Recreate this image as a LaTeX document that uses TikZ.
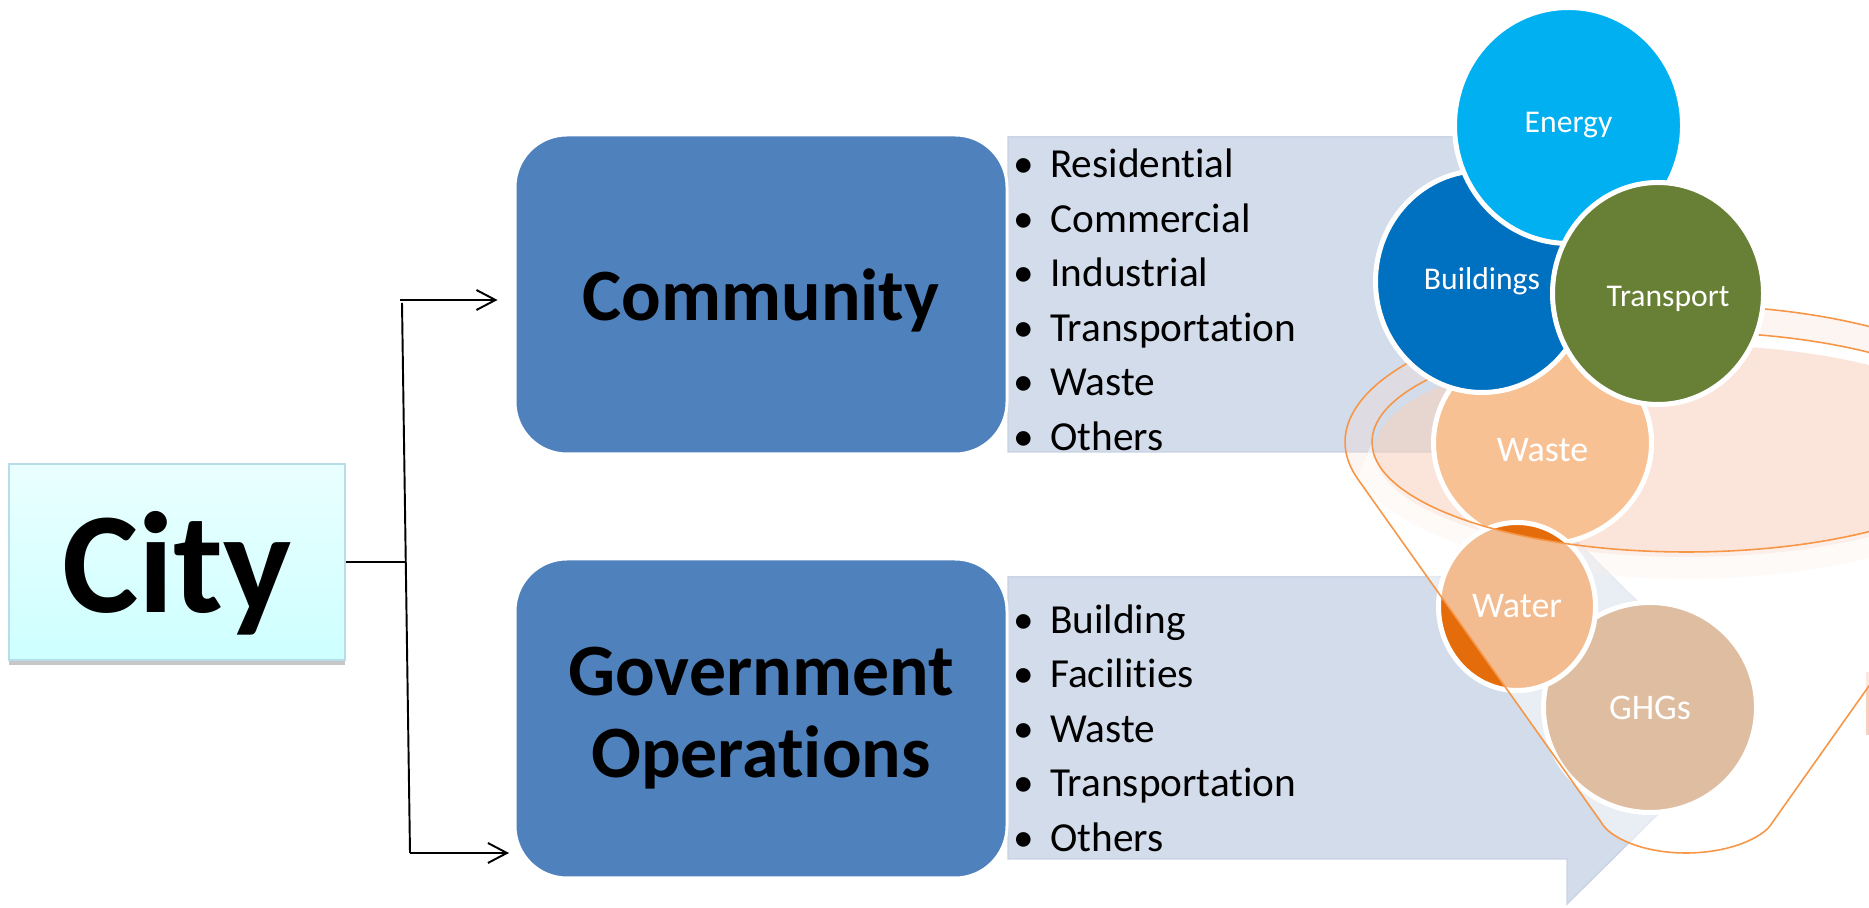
\documentclass[tikz,border=0pt]{standalone}
\usepackage{fontspec}
\setmainfont{Carlito}[Ligatures=NoCommon]
\usepackage{xcolor}
\usetikzlibrary{shadows}
\usepackage{tikz}
\usetikzlibrary{positioning, arrows.meta}
\usetikzlibrary{shapes,shapes.geometric}

\definecolor{cityfill}{RGB}{234,255,255}
\definecolor{cityfillb}{RGB}{206,255,255}
\definecolor{cityline}{RGB}{183,221,232}
\definecolor{sectorblue}{RGB}{79,129,189}
\definecolor{listblue}{RGB}{211,220,234}
\definecolor{listline}{RGB}{203,212,229}
\definecolor{energyblue}{RGB}{0,176,240}
\definecolor{buildblue}{RGB}{0,112,192}
\definecolor{transgreen}{RGB}{103,128,54}
\definecolor{wastepeach}{RGB}{248,193,148}
\definecolor{waterorange}{RGB}{228,108,10}
\definecolor{ghgtan}{RGB}{223,189,160}
\definecolor{funnelline}{RGB}{247,150,70}
\definecolor{rimfill}{RGB}{250,222,208}
\definecolor{mouthfill}{RGB}{248,208,188}

\newcommand{\conebody}{(1357.6,429.2) -- (1601,86) .. controls (1608,72) and (1640,55) .. (1686,55) .. controls (1732,55) and (1765,72) .. (1772,85) -- (2015.4,429.2) -- (2001,466) arc[start angle=0, end angle=-180, x radius=314.5, y radius=110] -- cycle}

\begin{document}
\begin{tikzpicture}[x=0.2mm, y=0.2mm,
  sector/.style={rounded corners=10.4mm, fill=sectorblue, draw=white, line width=0.6mm,
    minimum width=98.4mm, minimum height=63.8mm, align=center,
    font=\fontsize{42}{46.7}\selectfont\bfseries},
  bubble/.style={ellipse, inner sep=0pt, draw=white, line width=1mm, text=white,
    font=\fontsize{18}{22}\selectfont},
  lowbubble/.style={bubble, font=\fontsize{20.5}{24}\selectfont},
  bubtext/.style={text=white, font=\fontsize{20.5}{24}\selectfont},
  item/.style={anchor=base west, inner sep=0pt, font=\fontsize{23.5}{28}\selectfont},
  listarrow/.style={fill=listblue, draw=listline, line width=0.3mm},
  link/.style={line width=1.1pt},
  funnel/.style={draw=funnelline, line width=0.9pt}]

\useasboundingbox (0,0) rectangle (1869,908);
\clip (0,0) rectangle (1869,908);

% arrows behind the lists
\filldraw[listarrow] (1008,771) -- (1500,771) -- (1500,797) -- (1688,613.5) -- (1500,430) -- (1500,456) -- (1008,456) -- cycle;
\filldraw[listarrow] (1008,331) -- (1567,331) -- (1567,376) -- (1755,190) -- (1567,4) -- (1567,49) -- (1008,49) -- cycle;

% city and its two parts
\node[draw=cityline, line width=0.5mm, top color=cityfill, bottom color=cityfillb,
  minimum width=67.2mm, minimum height=39.2mm, text depth=0pt,
  drop shadow={shadow xshift=0mm, shadow yshift=-1.1mm, fill=black!22, opacity=1},
  font=\fontsize{82}{90}\selectfont\bfseries] (city) at (177,346) {City};
\node[sector, text depth=0pt] (comm) at (761,613.5) {Community};
\node[sector] (gov) at (761,189.5) {Government\\Operations};

\coordinate (jtop) at (402,605);
\coordinate (jbot) at (410,55);
\coordinate (jmid) at (405.8,346);
\coordinate (atop) at (400,608);
\draw[link] (city.east) -- (jmid);
\draw[link] (jtop) -- (jbot);
\draw[link, -{Straight Barb[length=3.8mm, width=4mm]}, shorten >=3.2mm] (atop) -- (atop -| comm.west);
\draw[link, -{Straight Barb[length=3.8mm, width=4mm]}, shorten >=0.9mm] (jbot) -- (jbot -| gov.west);

% lists
\foreach \t [count=\i] in {Residential,Commercial,Industrial,Transportation,Waste,Others}
  \node[item] (c\i) at (1013,{784.8-54.5*\i}) {\makebox[21pt][l]{\textbullet}\t};
\foreach \t [count=\i] in {Building,Facilities,Waste,Transportation,Others}
  \node[item] (g\i) at (1013,{329.2-54.5*\i}) {\makebox[21pt][l]{\textbullet}\t};

% funnel
\fill[rimfill, opacity=0.3, even odd rule] (1686.5,466) ellipse[x radius=341.5, y radius=136.7] (1686.5,466) ellipse[x radius=314.5, y radius=110];
\fill[mouthfill, opacity=0.55] (1686.5,457) ellipse[x radius=312, y radius=106];
\fill[mouthfill] (1866,173) rectangle (1869,236);

\node[lowbubble, fill=wastepeach, minimum width=43.6mm, minimum height=40.6mm,
  label={[bubtext, yshift=-1.4mm]center:Waste}] (waste) at (1542.5,465) {};
\fill[white, opacity=0.5] \conebody;
\node[lowbubble, fill=ghgtan, minimum width=42.6mm, minimum height=42mm] (ghg) at (1650,200.5) {GHGs};
\node[lowbubble, fill=waterorange, minimum width=31.4mm, minimum height=33.6mm] (water) at (1517,301.5) {Water};
\begin{scope}
  \clip (water.center) ellipse[x radius=81, y radius=86.5];
  \fill[white, opacity=0.55] \conebody;
\end{scope}
\draw[funnel] (2015.4,429.2) arc[start angle=-15.6, end angle=195.6, x radius=341.5, y radius=136.7] -- (1601,86) .. controls (1608,72) and (1640,55) .. (1686,55) .. controls (1732,55) and (1765,72) .. (1772,85) -- cycle;
\draw[funnel] (1686.5,466) ellipse[x radius=314.5, y radius=110];

\node[bubble, fill=buildblue, minimum width=42.6mm, minimum height=44.4mm] (build) at (1482,626.5) {Buildings};
\node[bubble, fill=energyblue, minimum width=45.6mm, minimum height=47.2mm] (energy) at (1568.5,782.5) {Energy};
\node[bubble, fill=transgreen, minimum width=42.2mm, minimum height=44.4mm,
  label={[bubtext, font=\fontsize{18}{22}\selectfont, xshift=2mm, yshift=-1.1mm]center:Transport}] (trans) at (1658,614.5) {};

\end{tikzpicture}
\end{document}
